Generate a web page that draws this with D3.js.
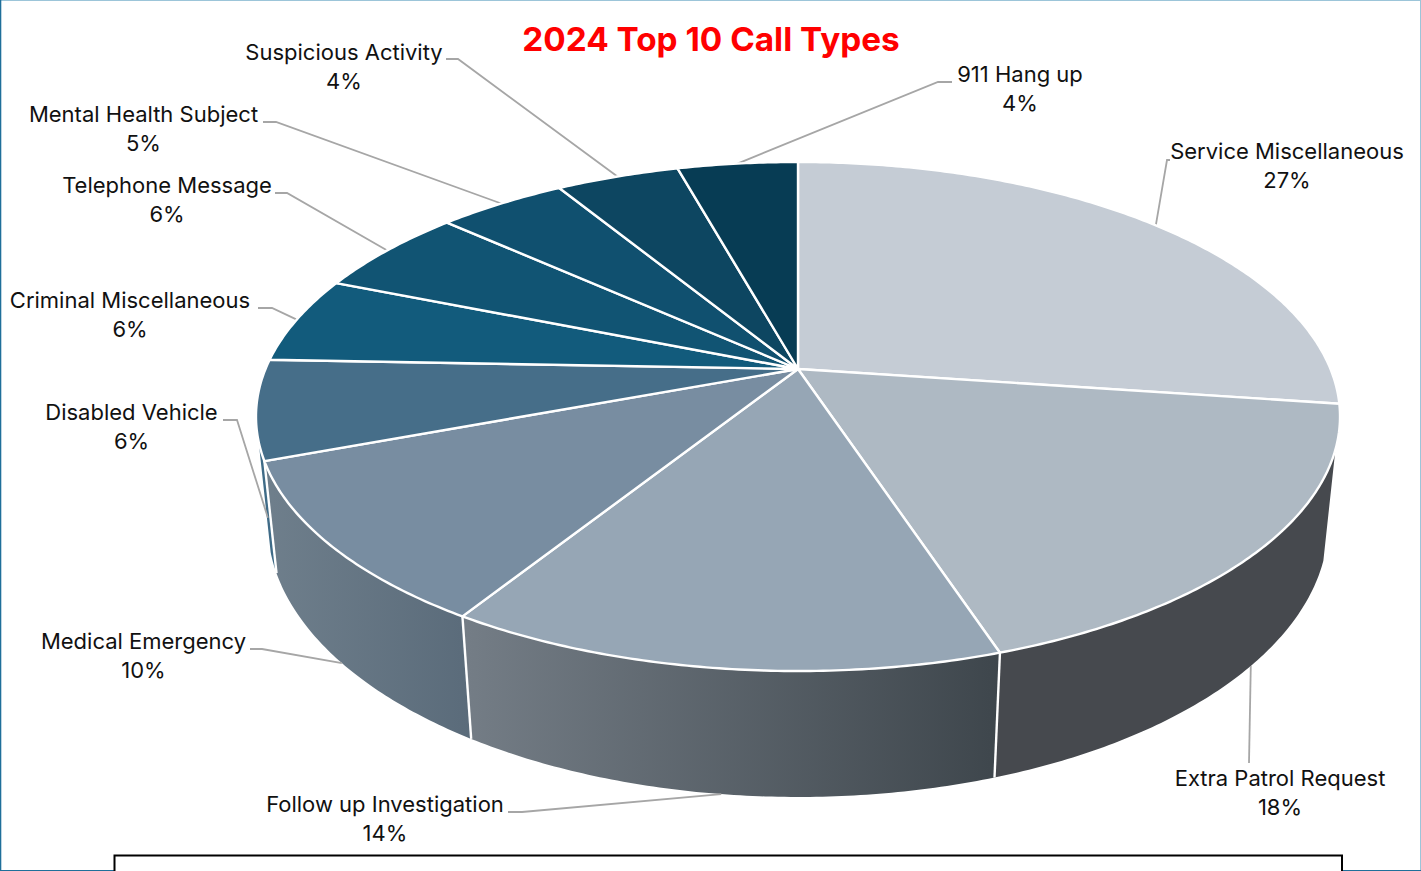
<!DOCTYPE html>
<html>
<head>
<meta charset="utf-8">
<script src="https://cdn.jsdelivr.net/npm/d3@7"></script>
<style>
html,body{margin:0;padding:0;background:#fff;overflow:hidden}
svg{display:block}
text{font-family:"Inter","Noto Sans",sans-serif;fill:#111;font-size:22px}
</style>
</head>
<body>
<svg id="chart" width="1421" height="871"></svg>
<script>
// ---- data ----
const categories = ["Service Miscellaneous","Extra Patrol Request","Follow up Investigation","Medical Emergency","Disabled Vehicle","Criminal Miscellaneous","Telephone Message","Mental Health Subject","Suspicious Activity","911 Hang up"];
const values = [27.2,17.75,13.95,10.4,6.3,5.5,5.6,4.6,4.4,4.3];
const titleText = "2024 Top 10 Call Types";

// ---- styles ----
const faceColors = ["#c5ccd5","#aeb9c3","#96a6b5","#788da1","#466e89","#125b7c","#115473","#10506f","#0d4661","#073c54"];
const wallFills = [null,"#46494e","url(#wallFollow)","url(#wallMedical)","#3f6b87",null,null,null,null,null];

// ---- layout (label centre, name baseline, leader elbow) ----
const labelX = [1287,1280,385,143.5,131.5,130,167,143.5,344,1020];
const labelY = [159,786,812,649,420,308,193,122,60,82];
const elbowX = [[1167,1170],[1249,1249],[522,508],[262,250],[237,223],[272,258],[287,275],[276,263],[458,446],[938,952]];
const elbowY = [160,763,812,649,420,308,193,122,59,82];
const leaderOnBase = [false,true,true,true,true,false,false,false,false,false];

// ---- perspective projection of the pie's top and base discs ----
const topDisc = {cx:798,A:532.5,a:176.8,b:369,c:-0.1866};
const baseDisc = {cx:798,A:521.5,a:178.4,b:474.3,c:-0.181};
const project = (disc,ang) => {
  const x = Math.sin(ang), y = -Math.cos(ang), d = 1 + disc.c*y;
  return [disc.cx + disc.A*x/d, (disc.a*y + disc.b)/d];
};
const rim = (disc,a0,a1) => {
  const n = Math.max(2,Math.ceil((a1-a0)/0.01));
  return d3.range(n+1).map(i => project(disc,a0+(a1-a0)*i/n));
};

const svg = d3.select("#chart");
const defs = svg.append("defs");
const grad = (id,x1,x2,stops) => {
  const g = defs.append("linearGradient").attr("id",id).attr("gradientUnits","userSpaceOnUse")
    .attr("x1",x1).attr("x2",x2).attr("y1",0).attr("y2",0);
  stops.forEach(s => g.append("stop").attr("offset",s[0]).attr("stop-color",s[1]));
};
grad("wallFollow",465,1000,[[0,"#747d86"],[1,"#3e464c"]]);
grad("wallMedical",262,472,[[0,"#6f7f8c"],[1,"#5a6b7a"]]);

// frame
svg.append("rect").attr("x",0).attr("y",0).attr("width",1421).attr("height",871).attr("fill","#fff");
svg.append("line").attr("x1",0).attr("x2",1421).attr("y1",0.5).attr("y2",0.5).attr("stroke","#9cc5d9").attr("stroke-width",1);
svg.append("line").attr("x1",1420.5).attr("x2",1420.5).attr("y1",0).attr("y2",871).attr("stroke","#9cc5d9").attr("stroke-width",1);
svg.append("line").attr("x1",0.5).attr("x2",0.5).attr("y1",0).attr("y2",871).attr("stroke","#1f6f9a").attr("stroke-width",1.6);
svg.append("line").attr("x1",0).attr("x2",1421).attr("y1",870.5).attr("y2",870.5).attr("stroke","#1f6f9a").attr("stroke-width",1.2);

const pie = d3.pie().sort(null).value(d=>d).startAngle(0).endAngle(2*Math.PI);
const arcs = pie(values);
const line = d3.line();

// visible side wall range
const wallStart = 2*Math.PI*0.30, wallEnd = 2*Math.PI*0.70;

// walls
arcs.forEach((s,i) => {
  if(!wallFills[i]) return;
  const a0 = Math.max(s.startAngle,wallStart), a1 = Math.min(s.endAngle,wallEnd+ (i===4?0.03:0));
  if(a1<=a0) return;
  const pts = rim(topDisc,a0,a1).concat(rim(baseDisc,a0,a1).reverse());
  svg.append("path").attr("d",line(pts)+"Z").attr("fill",wallFills[i]);
});
// wall separators
arcs.forEach(s => {
  if(s.endAngle<=wallStart || s.endAngle>=wallEnd+0.01) return;
  const p = project(topDisc,s.endAngle), q = project(baseDisc,s.endAngle);
  svg.append("line").attr("x1",p[0]).attr("y1",p[1]).attr("x2",q[0]).attr("y2",q[1])
    .attr("stroke","#fff").attr("stroke-width",2.4);
});

// leaders (over the walls, under the faces)
const leaderGroup = svg.append("g");
arcs.forEach((s,i) => {
  const mid = (s.startAngle+s.endAngle)/2;
  const start = project(leaderOnBase[i]?baseDisc:topDisc,mid);
  const pts = [start,[elbowX[i][0],elbowY[i]],[elbowX[i][1],elbowY[i]]];
  leaderGroup.append("path").attr("d",line(pts)).attr("fill","none").attr("stroke","#a6a6a6").attr("stroke-width",1.8);
});

// top faces
arcs.forEach((s,i) => {
  const apex = [topDisc.cx,topDisc.b];
  const pts = [apex].concat(rim(topDisc,s.startAngle,s.endAngle));
  svg.append("path").attr("d",line(pts)+"Z").attr("fill",faceColors[i])
    .attr("stroke","#fff").attr("stroke-width",2.4).attr("stroke-linejoin","round");
});

// labels
arcs.forEach((s,i) => {
  const pct = Math.round(s.value);
  svg.append("text").attr("x",labelX[i]).attr("y",labelY[i]).attr("text-anchor","middle").text(categories[i]);
  svg.append("text").attr("x",labelX[i]).attr("y",labelY[i]+29).attr("text-anchor","middle").text(pct+"%");
});

// title
svg.append("text").attr("x",711).attr("y",51).attr("text-anchor","middle")
  .style("font-family","'Inter',sans-serif").style("font-weight","700").style("font-size","33.3px").style("fill","#ff0000")
  .text(titleText);

// overlapping box at the bottom
svg.append("rect").attr("x",114.5).attr("y",855.5).attr("width",1227.5).attr("height",30)
  .attr("fill","#fff").attr("stroke","#000").attr("stroke-width",2);
</script>
</body>
</html>
